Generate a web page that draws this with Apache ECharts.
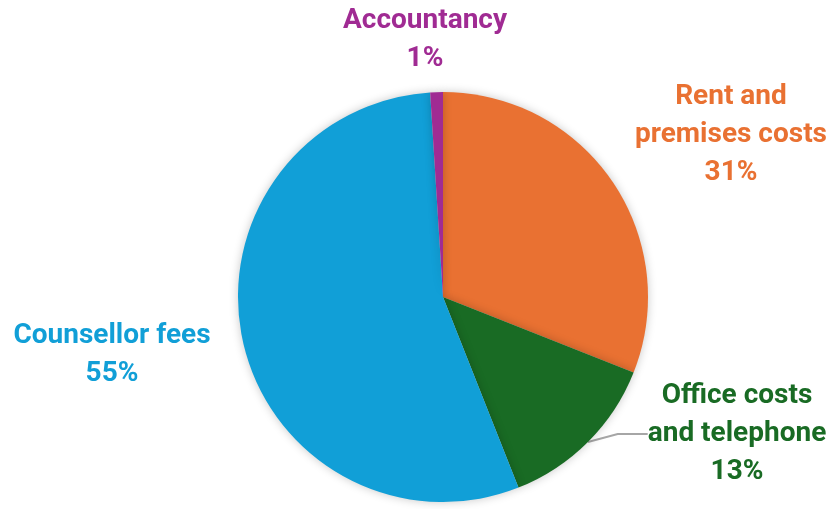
<!DOCTYPE html>
<html>
<head>
<meta charset="utf-8">
<script src="https://cdn.jsdelivr.net/npm/echarts@6/dist/echarts.min.js"></script>
<style>
  html, body { margin: 0; padding: 0; background: #ffffff; }
  #chart { width: 838px; height: 509px; }
</style>
</head>
<body>
<div id="chart"></div>
<script>
// Expense breakdown (percent of total spend)
const categories = ['Rent and\npremises costs', 'Office costs\nand telephone', 'Counsellor fees', 'Accountancy'];
const shares = [31, 13, 55, 1];
const colors = ['#E97132', '#196B24', '#119FD7', '#A02B93'];

// Where each label block sits (centre of the text block)
const labelSpots = [
  { x: 731, y: 135 },
  { x: 737, y: 434 },
  { x: 112, y: 355 },
  { x: 425, y: 40 }
];

const chart = echarts.init(document.getElementById('chart'), null, { renderer: 'canvas' });

chart.setOption({
  animation: false,
  backgroundColor: '#ffffff',
  series: [{
    type: 'pie',
    center: [443, 297],
    radius: 205,
    startAngle: 90,
    clockwise: true,
    itemStyle: {
      shadowBlur: 10,
      shadowColor: 'rgba(0,0,0,0.22)',
      borderWidth: 0
    },
    label: {
      show: true,
      position: 'outside',
      fontFamily: 'Roboto',
      fontWeight: 'bold',
      fontSize: 28,
      lineHeight: 38,
      align: 'center',
      overflow: 'none',
      formatter: p => p.name + '\n' + p.value + '%'
    },
    labelLine: { show: false },
    labelLayout: p => {
      const s = labelSpots[p.dataIndex];
      return { x: s.x, y: s.y, align: 'center', verticalAlign: 'middle' };
    },
    data: categories.map((name, i) => ({
      name: name,
      value: shares[i],
      itemStyle: { color: colors[i] },
      label: { color: colors[i] },
      labelLine: i === 1
        ? { show: true, length: 4, length2: 30, lineStyle: { color: '#A6A6A6', width: 2 } }
        : { show: false }
    }))
  }]
});
</script>
</body>
</html>
